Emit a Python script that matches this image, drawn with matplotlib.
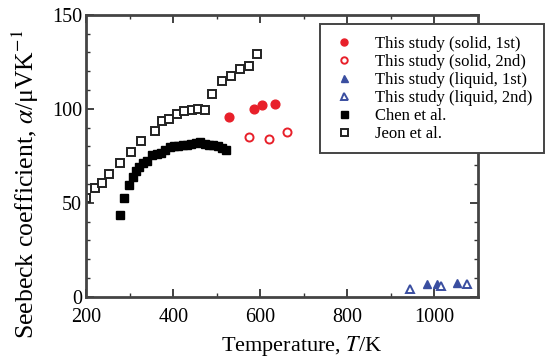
import matplotlib
matplotlib.use('Agg')
import matplotlib.pyplot as plt
from matplotlib.ticker import MultipleLocator

plt.rcParams['font.family'] = ['Liberation Serif', 'DejaVu Serif']
plt.rcParams['mathtext.fontset'] = 'stix'

# Jeon et al. (open squares)
jeon_T = [200, 221, 237, 253, 278, 303, 325, 358, 375, 391, 408, 425, 444, 456,
          473, 490, 513, 533, 554, 573, 592]
jeon_S = [52.8, 58, 60.8, 65.6, 71.4, 77, 83, 88, 93.6, 94.7, 97.3, 98.6, 99.5,
          99.8, 99.6, 108, 115, 117.7, 121, 122.7, 129]

# Chen et al. (filled squares)
chen_T = [278, 288, 299, 308, 315, 322, 330, 340, 352, 362, 372, 382, 392, 402,
          412, 422, 432, 442, 452, 462, 472, 482, 492, 502, 512, 522]
chen_S = [43.3, 52.8, 59.4, 64, 67, 69, 71, 72, 75.5, 76.2, 76.4, 78, 79.5, 80,
          80.5, 80.7, 81, 81.5, 81.6, 82.4, 81.2, 80.8, 81, 80, 79, 78]

# This study
solid1_T = [528, 585, 605, 633]
solid1_S = [95.4, 100, 102.3, 102.8]
solid2_T = [573, 621, 662]
solid2_S = [85, 84.2, 87.6]
liq1_T = [983, 1006, 1051]
liq1_S = [6.9, 6.9, 7.3]
liq2_T = [943, 1015, 1074]
liq2_S = [4.1, 6.0, 6.9]

red = '#e8202a'
blue = '#3a4ea0'

fig = plt.figure(figsize=(5.45, 3.62), dpi=100)
ax = fig.add_axes([0.158, 0.180, 0.719, 0.779])

ms = 6.3
ax.plot(jeon_T, jeon_S, 's', ms=ms, mfc='white', mec='#222222', mew=1.4, ls='none', label='Jeon et al.')
ax.plot(chen_T, chen_S, 's', ms=ms, color='black', ls='none', label='Chen et al.')
ax.plot(solid1_T, solid1_S, 'o', ms=ms, color=red, ls='none', label='This study (solid, 1st)')
ax.plot(solid2_T, solid2_S, 'o', ms=ms - 0.5, mfc='white', mec=red, mew=1.4, ls='none', label='This study (solid, 2nd)')
ax.plot(liq1_T, liq1_S, '^', ms=ms, color=blue, ls='none', label='This study (liquid, 1st)')
ax.plot(liq2_T, liq2_S, '^', ms=ms, mfc='white', mec=blue, mew=1.4, ls='none', label='This study (liquid, 2nd)')

ax.set_xlim(200, 1100)
ax.set_ylim(0, 150)
ax.xaxis.set_major_locator(MultipleLocator(200))
ax.xaxis.set_minor_locator(MultipleLocator(100))
ax.yaxis.set_major_locator(MultipleLocator(50))
ax.yaxis.set_minor_locator(MultipleLocator(10))
ax.tick_params(which='both', direction='in', top=True, right=True, color='#333333')
ax.tick_params(which='major', length=6, width=1.3, labelsize=14.5)
ax.tick_params(axis='x', which='major', pad=8)
ax.tick_params(axis='y', which='major', pad=3)
ax.tick_params(which='minor', length=3, width=1)
for s in ax.spines.values():
    s.set_linewidth(2)
    s.set_color('#444444')

fig.text(0.553, 0.012, 'Temperature, $T$/K', fontsize=16, ha='center', va='bottom')
fig.text(0.046, 0.492, r'Seebeck coefficient, $\alpha$/μVK$^{-1}$', fontsize=18.5,
         rotation=90, ha='center', va='center')

handles, labels = ax.get_legend_handles_labels()
order = [2, 3, 4, 5, 1, 0]
leg = fig.legend([handles[i] for i in order], [labels[i] for i in order],
                 loc='upper left', bbox_to_anchor=(0.587, 0.934),
                 fontsize=12, markerscale=0.8, labelspacing=0.12,
                 handlelength=1.5, handletextpad=1.1, borderpad=0.7,
                 borderaxespad=0, fancybox=False, framealpha=1, edgecolor='#444444')
leg.get_frame().set_linewidth(1.4)

plt.savefig('out.png', dpi=100)
